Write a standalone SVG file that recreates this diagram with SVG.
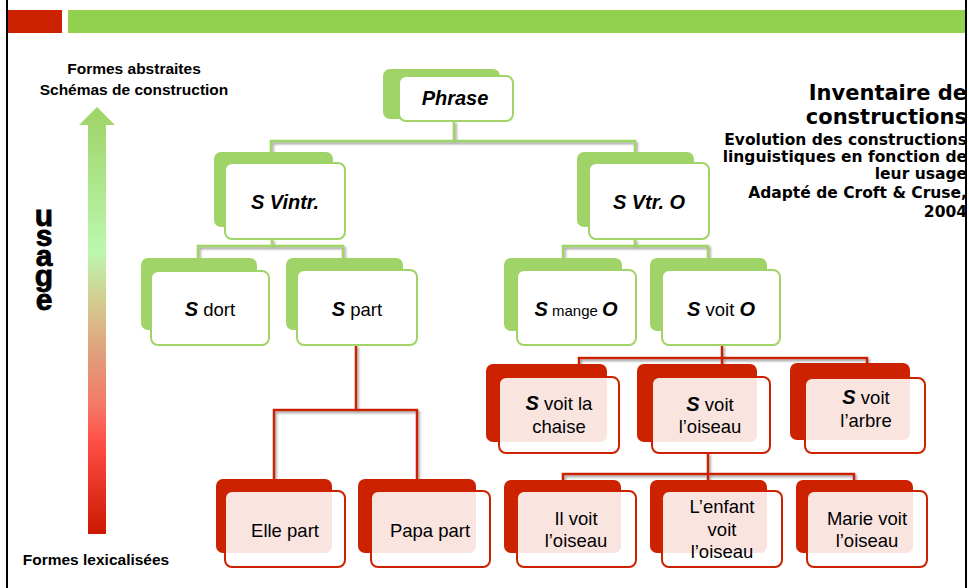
<svg xmlns="http://www.w3.org/2000/svg" width="969" height="588" viewBox="0 0 969 588">
  <style>
    .t { font-family: "Liberation Sans", Arial, sans-serif; fill: #000; text-anchor: middle; }
    .n { font-size: 18.5px; }
    .bi { font-weight: bold; font-style: italic; font-size: 20px; }
    .lab { font-family: "Liberation Sans", Arial, sans-serif; font-weight: bold; font-size: 15.5px; text-anchor: middle; fill: #000; }
    .ttl { font-family: "DejaVu Sans", Verdana, sans-serif; font-weight: bold; text-anchor: end; fill: #000; }
    .gb { fill: #A0D468; }
    .gf { fill: #fff; stroke: #A0D468; stroke-width: 2; }
    .rb { fill: #CC2200; }
    .rf { fill: #fff; fill-opacity: 0.88; stroke: #CC2200; stroke-width: 2; }
    .gc { fill: none; stroke: #A0D468; stroke-width: 2.5; }
    .rc { fill: none; stroke: #CC2200; stroke-width: 2.5; }
    .vert { font-family: "Liberation Sans", Arial, sans-serif; font-weight: bold; font-size: 30px;
            writing-mode: vertical-rl; text-orientation: upright; letter-spacing: -13px; fill: #000; stroke: #000; stroke-width: 0.8; }
  </style>
  <defs>
    <linearGradient id="usageGrad" x1="0" y1="107" x2="0" y2="534" gradientUnits="userSpaceOnUse">
      <stop offset="0" stop-color="#9ED366"/>
      <stop offset="0.34" stop-color="#BCF7AE"/>
      <stop offset="0.46" stop-color="#D4CA8E"/>
      <stop offset="0.58" stop-color="#E29E7C"/>
      <stop offset="0.70" stop-color="#F47866"/>
      <stop offset="0.78" stop-color="#FF5048"/>
      <stop offset="1" stop-color="#CC1800"/>
    </linearGradient>
    <filter id="shade" x="-20%" y="-20%" width="140%" height="140%">
      <feDropShadow dx="1.5" dy="2" stdDeviation="1" flood-color="#777" flood-opacity="0.7"/>
    </filter>
  </defs>

  <!-- page frame and banner -->
  <rect x="0" y="0" width="969" height="588" fill="#fff"/>
  <rect x="8" y="10" width="54" height="23" fill="#CC2200"/>
  <rect x="68" y="10" width="898" height="23" fill="#92D050"/>

  <!-- usage scale -->
  <g id="usage-scale">
    <path d="M88,125 H79 L97,107 L115,125 H106 V534 H88 Z" fill="url(#usageGrad)"/>
    <text class="lab" x="134" y="74">Formes abstraites</text>
    <text class="lab" x="134" y="95">Schémas de construction</text>
    <text class="lab" x="96" y="565">Formes lexicalisées</text>
    <!-- stacked upright letters; the last one sits lower to clear the descender of g -->
    <text class="vert" x="44" y="199">usag</text>
    <text class="vert" x="44" y="283">e</text>
  </g>

  <!-- title block -->
  <g id="title">
    <text class="ttl" font-size="21" x="967" y="100">Inventaire de</text>
    <text class="ttl" font-size="21" x="967" y="124">constructions</text>
    <text class="ttl" font-size="15.5" x="967" y="145">Evolution des constructions</text>
    <text class="ttl" font-size="15.5" x="967" y="162">linguistiques en fonction de</text>
    <text class="ttl" font-size="15.5" x="967" y="179">leur usage</text>
    <text class="ttl" font-size="15.5" x="967" y="198">Adapté de Croft &amp; Cruse,</text>
    <text class="ttl" font-size="15.5" x="967" y="217">2004</text>
  </g>

  <!-- connectors -->
  <g id="connectors" filter="url(#shade)">
    <path class="gc" d="M454,121 V141 M271,152 V141 H635 V152"/>
    <path class="gc" d="M272,239 V246 M198,258 V246 H343 V258"/>
    <path class="gc" d="M635,239 V246 M563,258 V246 H708 V258"/>
    <path class="rc" d="M356,345 V410" stroke-width="4.5"/>
    <path class="rc" d="M274,479 V410 H417 V479"/>
    <path class="rc" d="M722,345 V364 M579,364 V358 H867 V363"/>
    <path class="rc" d="M708,453 V480 M563,480 V474 H854 V480"/>
  </g>

  <!-- abstract schemas -->
  <g id="phrase">
    <rect class="gb" x="383" y="69" width="117" height="50" rx="7"/>
    <rect class="gf" x="399" y="76" width="114" height="45" rx="7"/>
    <text class="t bi" x="455" y="105" font-size="18">Phrase</text>
  </g>
  <g id="s-vintr">
    <rect class="gb" x="214" y="152" width="119" height="75" rx="7"/>
    <rect class="gf" x="225" y="163" width="120" height="76" rx="7"/>
    <text class="t bi" x="285" y="209" font-size="18">S Vintr.</text>
  </g>
  <g id="s-vtr-o">
    <rect class="gb" x="577" y="152" width="117" height="75" rx="7"/>
    <rect class="gf" x="589" y="163" width="120" height="76" rx="7"/>
    <text class="t bi" x="649" y="209" font-size="18">S Vtr. O</text>
  </g>
  <g id="s-dort">
    <rect class="gb" x="141" y="258" width="116" height="72" rx="7"/>
    <rect class="gf" x="151" y="271" width="118" height="74" rx="7"/>
    <text class="t n" x="210" y="316"><tspan class="bi">S</tspan> dort</text>
  </g>
  <g id="s-part">
    <rect class="gb" x="286" y="258" width="117" height="72" rx="7"/>
    <rect class="gf" x="297" y="270" width="120" height="75" rx="7"/>
    <text class="t n" x="357" y="316"><tspan class="bi">S</tspan> part</text>
  </g>
  <g id="s-mange-o">
    <rect class="gb" x="504" y="258" width="118" height="73" rx="7"/>
    <rect class="gf" x="517" y="270" width="119" height="75" rx="7"/>
    <text class="t" x="576" y="316" font-size="15"><tspan class="bi">S</tspan> mange <tspan class="bi">O</tspan></text>
  </g>
  <g id="s-voit-o">
    <rect class="gb" x="650" y="258" width="117" height="73" rx="7"/>
    <rect class="gf" x="662" y="270" width="118" height="75" rx="7"/>
    <text class="t n" x="721" y="316"><tspan class="bi">S</tspan> voit <tspan class="bi">O</tspan></text>
  </g>

  <!-- partially filled constructions -->
  <g id="s-voit-la-chaise">
    <rect class="rb" x="486" y="364" width="121" height="78" rx="7"/>
    <rect class="rf" x="499" y="377" width="120" height="76" rx="7"/>
    <text class="t n" x="559" y="410"><tspan class="bi">S</tspan> voit la</text>
    <text class="t n" x="559" y="433">chaise</text>
  </g>
  <g id="s-voit-loiseau">
    <rect class="rb" x="637" y="364" width="120" height="78" rx="7"/>
    <rect class="rf" x="652" y="377" width="118" height="76" rx="7"/>
    <text class="t n" x="710" y="411"><tspan class="bi">S</tspan> voit</text>
    <text class="t n" x="710" y="433">l’oiseau</text>
  </g>
  <g id="s-voit-larbre">
    <rect class="rb" x="790" y="363" width="120" height="77" rx="7"/>
    <rect class="rf" x="805" y="378" width="120" height="75" rx="7"/>
    <text class="t n" x="866" y="404"><tspan class="bi">S</tspan> voit</text>
    <text class="t n" x="866" y="427">l’arbre</text>
  </g>

  <!-- fully lexicalised forms -->
  <g id="elle-part">
    <rect class="rb" x="216" y="479" width="116" height="74" rx="7"/>
    <rect class="rf" x="225" y="491" width="120" height="76" rx="7"/>
    <text class="t n" x="285" y="537">Elle part</text>
  </g>
  <g id="papa-part">
    <rect class="rb" x="358" y="479" width="118" height="74" rx="7"/>
    <rect class="rf" x="371" y="491" width="119" height="76" rx="7"/>
    <text class="t n" x="430" y="537">Papa part</text>
  </g>
  <g id="il-voit">
    <rect class="rb" x="504" y="480" width="117" height="73" rx="7"/>
    <rect class="rf" x="517" y="491" width="119" height="76" rx="7"/>
    <text class="t n" x="576" y="525">Il voit</text>
    <text class="t n" x="576" y="547">l’oiseau</text>
  </g>
  <g id="enfant-voit">
    <rect class="rb" x="650" y="480" width="117" height="73" rx="7"/>
    <rect class="rf" x="662" y="491" width="120" height="76" rx="7"/>
    <text class="t n" x="722" y="513">L’enfant</text>
    <text class="t n" x="722" y="536">voit</text>
    <text class="t n" x="722" y="558">l’oiseau</text>
  </g>
  <g id="marie-voit">
    <rect class="rb" x="796" y="480" width="117" height="73" rx="7"/>
    <rect class="rf" x="807" y="491" width="120" height="76" rx="7"/>
    <text class="t n" x="867" y="525">Marie voit</text>
    <text class="t n" x="867" y="547">l’oiseau</text>
  </g>

  <!-- side rules of the page -->
  <line x1="7" y1="0" x2="7" y2="588" stroke="#000" stroke-width="2"/>
  <line x1="966" y1="0" x2="966" y2="588" stroke="#000" stroke-width="2"/>
</svg>
